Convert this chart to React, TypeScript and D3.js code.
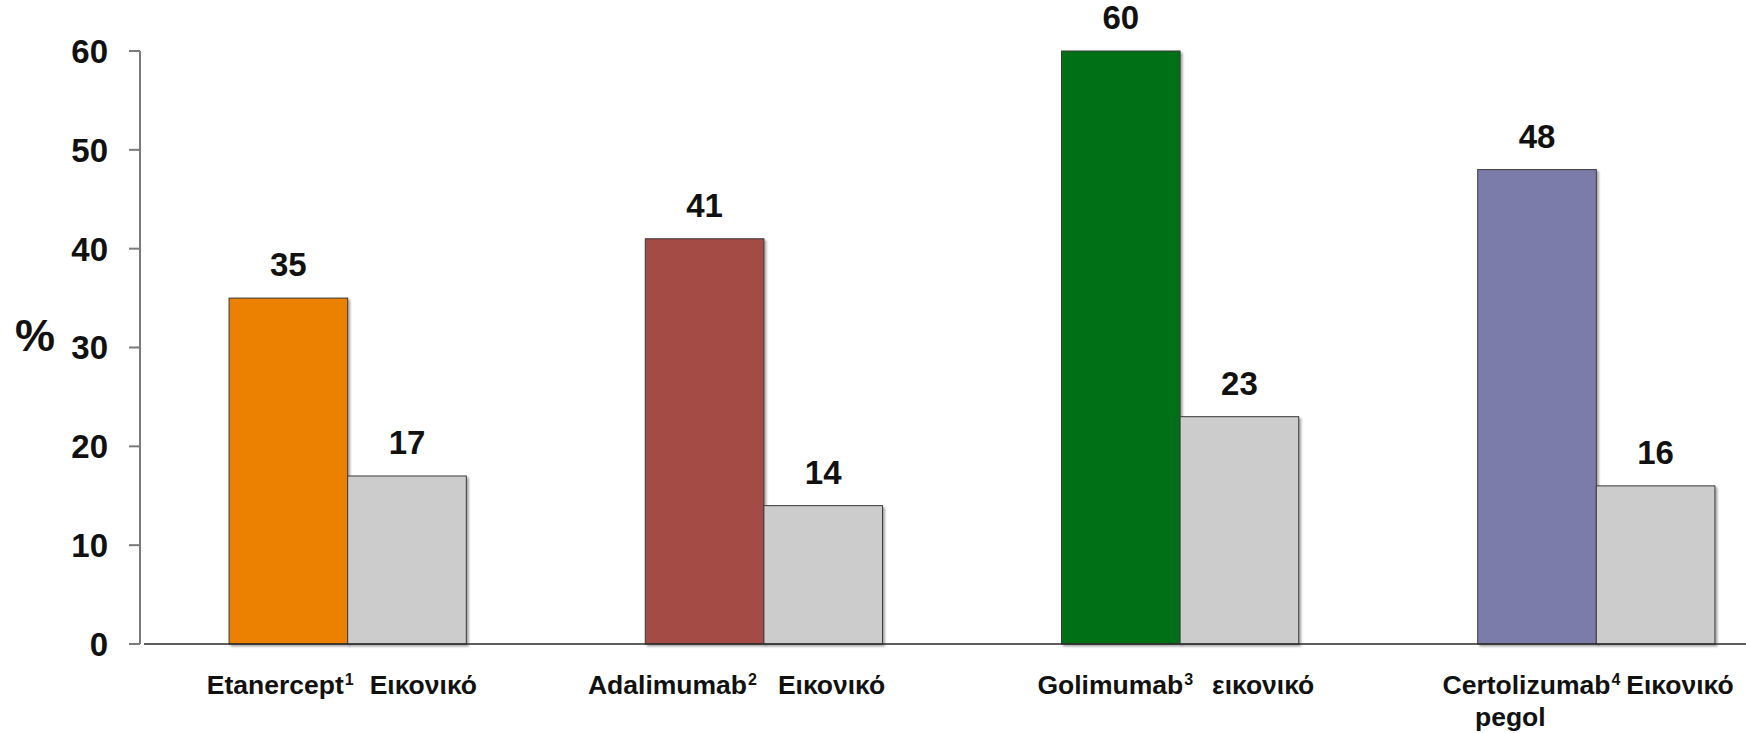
import React from "react";
import * as d3 from "d3";

// Response rates (%) for each anti-TNF agent and its placebo arm
const drugs = ["Etanercept", "Adalimumab", "Golimumab", "Certolizumab"];
const drugRefs = ["1", "2", "3", "4"];
const drugSecondLine = ["", "", "", "pegol"];
const placeboLabels = ["Εικονικό", "Εικονικό", "εικονικό", "Εικονικό"];
const drugValues = [35, 41, 60, 48];
const placeboValues = [17, 14, 23, 16];
const yTicks = [0, 10, 20, 30, 40, 50, 60];

const drugColors = ["#EC8006", "#A54B45", "#036F16", "#7B7BAA"];
const placeboColor = "#CCCCCC";

// Label placement relative to the boundary between the two bars of a group
const drugLabelEnd = [6, -7, 13, 24];
const placeboLabelStart = [22, 14, 32, 30];

const W = 1746;
const H = 733;
const FONT = "'Liberation Sans', Arial, Helvetica, sans-serif";

export default function App() {
  const y = d3.scaleLinear().domain([0, 60]).range([644, 51]);
  const x = d3
    .scaleBand<string>()
    .domain(drugs)
    .range([140, 1804])
    .paddingInner(0.43)
    .paddingOuter(0.214);
  const inner = d3
    .scaleBand<string>()
    .domain(["drug", "placebo"])
    .range([0, x.bandwidth()]);

  const axisX = 140;
  const baseY = y(0);

  return (
    <svg
      width={W}
      height={H}
      style={{ position: "absolute", left: 0, top: 0, background: "#fff" }}
      fontFamily={FONT}
    >
      <defs>
        <filter id="barShadow" x="-10%" y="-10%" width="130%" height="130%">
          <feDropShadow dx="2" dy="2" stdDeviation="1" floodColor="#000" floodOpacity="0.35" />
        </filter>
      </defs>

      {/* y axis */}
      <line x1={axisX} x2={axisX} y1={y(60)} y2={baseY} stroke="#7a7a7a" strokeWidth={2} />
      {yTicks.map((t) => (
        <g key={t}>
          <line x1={axisX - 11} x2={axisX} y1={y(t)} y2={y(t)} stroke="#7a7a7a" strokeWidth={2} />
          <text
            x={108}
            y={y(t)}
            dy="0.36em"
            textAnchor="end"
            fontSize={33}
            fontWeight="bold"
            fill="#111"
          >
            {t}
          </text>
        </g>
      ))}
      <text x={15} y={351} fontSize={45} fontWeight="bold" fill="#111">
        %
      </text>

      {/* bars */}
      {drugs.map((d, i) => {
        const gx = x(d) ?? 0;
        const dx = gx + (inner("drug") ?? 0);
        const px = gx + (inner("placebo") ?? 0);
        const bw = inner.bandwidth();
        return (
          <g key={d}>
            <rect
              x={dx}
              y={y(drugValues[i])}
              width={bw}
              height={baseY - y(drugValues[i])}
              fill={drugColors[i]}
              stroke="#3a3a3a"
              strokeWidth={1}
              filter="url(#barShadow)"
            />
            <rect
              x={px}
              y={y(placeboValues[i])}
              width={bw}
              height={baseY - y(placeboValues[i])}
              fill={placeboColor}
              stroke="#3a3a3a"
              strokeWidth={1}
              filter="url(#barShadow)"
            />
            <text
              x={dx + bw / 2}
              y={y(drugValues[i]) - 22}
              textAnchor="middle"
              fontSize={33}
              fontWeight="bold"
              fill="#111"
            >
              {drugValues[i]}
            </text>
            <text
              x={px + bw / 2}
              y={y(placeboValues[i]) - 22}
              textAnchor="middle"
              fontSize={33}
              fontWeight="bold"
              fill="#111"
            >
              {placeboValues[i]}
            </text>
          </g>
        );
      })}

      {/* baseline */}
      <line x1={144} x2={W} y1={baseY} y2={baseY} stroke="#2a2a2a" strokeWidth={1.5} />

      {/* category labels */}
      {drugs.map((d, i) => {
        const gx = x(d) ?? 0;
        const mid = gx + (inner("placebo") ?? 0);
        return (
          <g key={d + "-lab"} fontSize={26.5} fontWeight="bold" fill="#111">
            <text x={mid + drugLabelEnd[i]} y={baseY + 50} textAnchor="end">
              {d}
              <tspan fontSize={16} dx={1} dy={-9}>
                {drugRefs[i]}
              </tspan>
            </text>
            {drugSecondLine[i] && (
              <text x={mid + drugLabelEnd[i] - 110} y={baseY + 82} textAnchor="middle">
                {drugSecondLine[i]}
              </text>
            )}
            <text x={mid + placeboLabelStart[i]} y={baseY + 50} textAnchor="start">
              {placeboLabels[i]}
            </text>
          </g>
        );
      })}
    </svg>
  );
}
